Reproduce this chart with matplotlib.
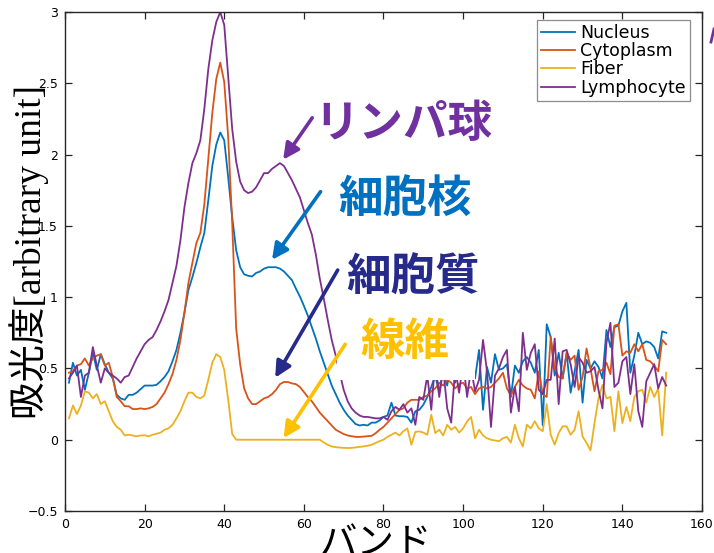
import matplotlib
matplotlib.use('Agg')
import matplotlib.pyplot as plt
from matplotlib.patches import Rectangle
from matplotlib.lines import Line2D

# ---------------- data ----------------
bands = list(range(1, 152))

nucleus = [
    0.40, 0.54, 0.45, 0.49, 0.35, 0.47, 0.61, 0.49, 0.60, 0.53,
    0.47, 0.43, 0.315, 0.29, 0.28, 0.315, 0.315, 0.33, 0.355, 0.38,
    0.38, 0.38, 0.385, 0.41, 0.44, 0.48, 0.55, 0.63, 0.75, 0.89,
    1.05, 1.14, 1.24, 1.35, 1.45, 1.68, 1.92, 2.07, 2.155, 2.10,
    1.84, 1.56, 1.33, 1.21, 1.16, 1.15, 1.145, 1.17, 1.18, 1.20,
    1.21, 1.21, 1.21, 1.20, 1.18, 1.15, 1.12, 1.06, 1.005, 0.94,
    0.87, 0.79, 0.71, 0.62, 0.54, 0.46, 0.38, 0.32, 0.26, 0.21,
    0.17, 0.14, 0.11, 0.10, 0.105, 0.10, 0.12, 0.12, 0.135, 0.16,
    0.17, 0.26, 0.17, 0.165, 0.165, 0.16, 0.12, 0.20, 0.21, 0.245,
    0.30, 0.37, 0.45, 0.33, 0.50, 0.38, 0.55, 0.40, 0.50, 0.45,
    0.55, 0.48, 0.43, 0.63, 0.21, 0.51, 0.40, 0.60, 0.49, 0.50,
    0.53, 0.30, 0.52, 0.47, 0.55, 0.58, 0.54, 0.47, 0.63, 0.10,
    0.81, 0.72, 0.45, 0.61, 0.43, 0.61, 0.33, 0.48, 0.63, 0.26,
    0.56, 0.50, 0.55, 0.51, 0.43, 0.77, 0.65, 0.79, 0.80, 0.90,
    0.96, 0.47, 0.59, 0.75, 0.67, 0.69, 0.68, 0.65, 0.57, 0.76, 0.75,
]

cytoplasm = [
    0.47, 0.48, 0.52, 0.53, 0.57, 0.52, 0.57, 0.59, 0.60, 0.52,
    0.54, 0.44, 0.30, 0.27, 0.235, 0.235, 0.215, 0.215, 0.22, 0.215,
    0.22, 0.23, 0.25, 0.29, 0.33, 0.39, 0.46, 0.56, 0.70, 0.89,
    1.10, 1.24, 1.38, 1.45, 1.65, 1.97, 2.29, 2.53, 2.645, 2.51,
    2.12, 1.52, 0.78, 0.53, 0.36, 0.29, 0.25, 0.25, 0.27, 0.29,
    0.30, 0.32, 0.35, 0.39, 0.405, 0.405, 0.395, 0.39, 0.37, 0.335,
    0.30, 0.27, 0.23, 0.19, 0.16, 0.13, 0.10, 0.07, 0.055, 0.04,
    0.03, 0.025, 0.02, 0.02, 0.022, 0.025, 0.027, 0.045, 0.07, 0.09,
    0.12, 0.15, 0.18, 0.21, 0.22, 0.26, 0.28, 0.28, 0.28, 0.30,
    0.31, 0.34, 0.36, 0.40, 0.38, 0.42, 0.40, 0.36, 0.39, 0.40,
    0.36, 0.37, 0.32, 0.36, 0.37, 0.36, 0.37, 0.40, 0.43, 0.47,
    0.36, 0.31, 0.37, 0.42, 0.38, 0.36, 0.35, 0.29, 0.48, 0.32,
    0.30, 0.72, 0.50, 0.44, 0.43, 0.61, 0.56, 0.59, 0.35, 0.44,
    0.64, 0.50, 0.34, 0.48, 0.49, 0.54, 0.46, 0.80, 0.81, 0.59,
    0.62, 0.61, 0.67, 0.62, 0.67, 0.56, 0.55, 0.52, 0.48, 0.70, 0.67,
]

fiber = [
    0.15, 0.24, 0.18, 0.24, 0.34, 0.33, 0.29, 0.32, 0.25, 0.27,
    0.20, 0.13, 0.09, 0.07, 0.03, 0.035, 0.03, 0.024, 0.03, 0.031,
    0.024, 0.035, 0.042, 0.05, 0.07, 0.08, 0.105, 0.15, 0.20, 0.27,
    0.33, 0.33, 0.30, 0.29, 0.31, 0.42, 0.54, 0.60, 0.58, 0.49,
    0.28, 0.04, 0.0, 0.0, 0.0, 0.0, 0.0, 0.0, 0.0, 0.0,
    0.0, 0.0, 0.0, 0.0, 0.0, 0.0, 0.0, 0.0, 0.0, 0.0,
    0.0, 0.0, 0.0, 0.0, -0.019, -0.035, -0.047, -0.052, -0.055, -0.057,
    -0.058, -0.057, -0.054, -0.05, -0.047, -0.042, -0.035, -0.023, -0.01, 0.0,
    0.02, 0.035, 0.05, 0.03, 0.06, 0.08, -0.035, 0.055, 0.058, 0.05,
    0.035, 0.175, 0.047, 0.07, 0.03, 0.105, 0.07, 0.09, 0.05, 0.08,
    0.128, 0.16, 0.01, 0.07, 0.03, 0.01, 0.0, -0.005, -0.01, 0.01,
    0.02, -0.02, 0.105, 0.01, -0.047, 0.105, 0.08, 0.13, 0.08, 0.06,
    0.25, 0.035, -0.035, 0.047, 0.094, 0.094, 0.035, 0.07, 0.20, 0.023,
    -0.023, -0.075, 0.117, 0.29, 0.385, 0.29, 0.30, 0.06, 0.34, 0.117,
    0.23, 0.13, 0.30, 0.34, 0.35, 0.26, 0.37, 0.30, 0.36, 0.03, 0.47,
]

lymphocyte = [
    0.43, 0.47, 0.52, 0.30, 0.45, 0.47, 0.65, 0.52, 0.40, 0.50,
    0.47, 0.45, 0.43, 0.40, 0.44, 0.45, 0.51, 0.57, 0.62, 0.67,
    0.70, 0.72, 0.77, 0.83, 0.90, 0.98, 1.10, 1.22, 1.40, 1.63,
    1.80, 1.94, 2.01, 2.10, 2.32, 2.60, 2.80, 2.93, 3.00, 2.91,
    2.55, 2.18, 1.95, 1.81, 1.75, 1.73, 1.74, 1.77, 1.82, 1.87,
    1.87, 1.90, 1.92, 1.94, 1.92, 1.87, 1.82, 1.76, 1.70, 1.61,
    1.52, 1.44, 1.30, 1.13, 0.99, 0.84, 0.70, 0.59, 0.47, 0.35,
    0.27, 0.22, 0.19, 0.17, 0.16, 0.16, 0.155, 0.15, 0.15, 0.16,
    0.14, 0.20, 0.23, 0.21, 0.25, 0.19, 0.22, 0.105, 0.30, 0.28,
    0.45, 0.21, 0.55, 0.30, 0.50, 0.22, 0.12, 0.50, 0.33, 0.55,
    0.30, 0.50, 0.34, 0.42, 0.70, 0.48, 0.09, 0.45, 0.50, 0.58,
    0.63, 0.19, 0.37, 0.20, 0.75, 0.49, 0.61, 0.67, 0.35, 0.32,
    0.42, 0.42, 0.71, 0.25, 0.62, 0.63, 0.53, 0.37, 0.58, 0.54,
    0.47, 0.48, 0.51, 0.35, 0.22, 0.68, 0.82, 0.37, 0.40, 0.55,
    0.58, 0.32, 0.53, 0.20, 0.09, 0.41, 0.47, 0.53, 0.36, 0.44, 0.38,
]

series_names = ['Nucleus', 'Cytoplasm', 'Fiber', 'Lymphocyte']
series_values = [nucleus, cytoplasm, fiber, lymphocyte]
series_colors = ['#0072BD', '#D95319', '#EDB120', '#7E2F8E']

x_ticks = [0, 20, 40, 60, 80, 100, 120, 140, 160]
y_ticks = [-0.5, 0, 0.5, 1, 1.5, 2, 2.5, 3]
y_tick_labels = ['\u22120.5', '0', '0.5', '1', '1.5', '2', '2.5', '3']

# annotations: label, colour, text position, arrow start, arrow tip (data coords)
ann_labels = ['リンパ球', '細胞核', '細胞質', '線維']
ann_colors = ['#7030A0', '#0070C0', '#262A8A', '#FFC000']
ann_text_xy = [(85.0, 2.216), (85.3, 1.683), (87.5, 1.136), (85.3, 0.687)]
ann_arrow_from = [(62.1, 2.258), (64.2, 1.740), (68.5, 1.19), (70.4, 0.67)]
ann_arrow_to = [(54.8, 1.964), (52.0, 1.262), (52.8, 0.435), (54.9, 0.012)]

# ---------------- figure ----------------
fig = plt.figure(figsize=(7.14, 5.53), dpi=100)
ax = fig.add_axes([0.0910, 0.0759, 0.8922, 0.9024])

for name, vals, c in zip(series_names, series_values, series_colors):
    ax.plot(bands, vals, color=c, lw=1.3, label=name, zorder=2)

ax.set_xlim(0, 160)
ax.set_ylim(-0.5, 3)
ax.set_xticks(x_ticks)
ax.set_yticks(y_ticks)
ax.set_yticklabels(y_tick_labels)
ax.tick_params(direction='in', top=True, right=True, length=5, width=0.9,
               labelsize=9, colors='#262626', pad=5)
for lab in ax.get_xticklabels() + ax.get_yticklabels():
    lab.set_color('black')
for sp in ax.spines.values():
    sp.set_color('#262626')
    sp.set_linewidth(1.0)

# white box (pasted label background) hiding part of the data
ax.add_patch(Rectangle((68.4, 0.421), 34.5, 0.53, facecolor='white',
                       edgecolor='none', zorder=3))

leg = ax.legend(loc='upper right', bbox_to_anchor=(0.981, 0.984),
                borderaxespad=0, fancybox=False, framealpha=1,
                edgecolor='#8c8c8c', fontsize=12.5, handlelength=2.0,
                handletextpad=0.3, labelspacing=0.02, borderpad=0.22)
leg.get_frame().set_linewidth(0.9)
leg.set_zorder(6)

cjk = ['Noto Sans CJK JP', 'DejaVu Sans']
for lab, c, txy, a0, a1 in zip(ann_labels, ann_colors, ann_text_xy,
                               ann_arrow_from, ann_arrow_to):
    ax.annotate('', xy=a1, xytext=a0,
                arrowprops=dict(arrowstyle='-|>', color=c, lw=2.6,
                                mutation_scale=24, shrinkA=0, shrinkB=0),
                zorder=5)
    ax.text(txy[0], txy[1], lab, color=c, fontsize=32, fontweight='bold',
            family=cjk, ha='center', va='center', zorder=5)

fig.text(29 / 714, 1 - 252 / 553, '吸光度[arbitrary unit]', rotation=90,
         ha='center', va='center', fontsize=27,
         family=['Liberation Serif', 'Noto Sans CJK JP'])
fig.text(376 / 714, 1 - 543 / 553, 'バンド', ha='center', va='center',
         fontsize=27, family=cjk)

# small stray mark at the upper right edge
fig.add_artist(Line2D([711 / 714, 714 / 714], [1 - 42 / 553, 1 - 29 / 553],
                      color='#7030A0', lw=2, transform=fig.transFigure))

fig.savefig('out.png', dpi=100)
